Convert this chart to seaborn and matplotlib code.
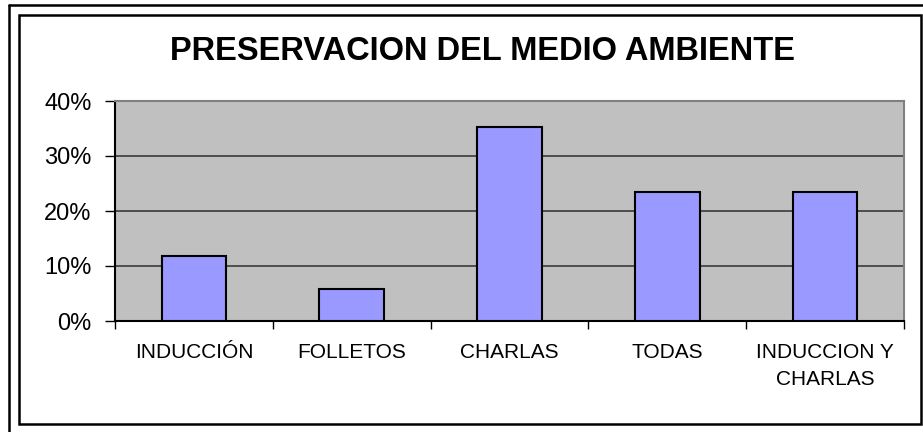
import matplotlib
matplotlib.use('Agg')
import matplotlib.pyplot as plt
import seaborn as sns
from matplotlib.ticker import FixedLocator, PercentFormatter
from matplotlib.patches import Rectangle
from matplotlib.lines import Line2D

# data (17 respondents -> multiples of 1/17)
categories = ['INDUCCIÓN', 'FOLLETOS', 'CHARLAS', 'TODAS', 'INDUCCION Y\nCHARLAS']
shares = [0.1176, 0.0588, 0.3529, 0.2353, 0.2353]
y_ticks = [0.0, 0.1, 0.2, 0.3, 0.4]
title = 'PRESERVACION DEL MEDIO AMBIENTE'

sns.set_style('white')
plt.rcParams['font.family'] = ['Liberation Sans', 'DejaVu Sans']
plt.rcParams['text.color'] = 'black'
plt.rcParams['xtick.color'] = 'black'
plt.rcParams['ytick.color'] = 'black'

W, H = 923, 432
fig = plt.figure(figsize=(W / 100, H / 100), dpi=100)
ax = fig.add_axes([115 / W, 1 - 321 / H, (904 - 115) / W, (321 - 101) / H])

sns.barplot(x=categories, y=shares, color='#9999FF', saturation=1, width=0.41,
            edgecolor='black', linewidth=1.5, ax=ax, zorder=3)

ax.set_facecolor('#C0C0C0')
ax.set_xlim(-0.5, len(categories) - 0.5)
ax.set_ylim(0, 0.4)
ax.yaxis.set_major_locator(FixedLocator(y_ticks))
ax.yaxis.set_major_formatter(PercentFormatter(1.0, decimals=0))
ax.grid(axis='y', color='#3a3a3a', lw=1.2, zorder=1)
ax.xaxis.grid(False)
ax.set_xlabel('')
ax.set_ylabel('')

for side in ['left', 'bottom']:
    ax.spines[side].set_color('black')
    ax.spines[side].set_linewidth(1.5)
for side in ['top', 'right']:
    ax.spines[side].set_color('#808080')
    ax.spines[side].set_linewidth(1.5)
    ax.spines[side].set_visible(True)

# category boundaries as ticks, labels on the centres
ax.set_xticks([i - 0.5 for i in range(len(categories) + 1)], labels=[])
ax.set_xticks(range(len(categories)), labels=categories, minor=True)
ax.tick_params(axis='x', which='major', direction='out', length=6, width=1, color='black', bottom=True)
ax.tick_params(axis='x', which='minor', length=0, pad=16, labelsize=15, labelcolor='black')
ax.tick_params(axis='y', direction='out', length=7, width=1, color='black', left=True, pad=10,
               labelsize=17, labelcolor='black')
for lbl in ax.get_xticklabels(minor=True):
    lbl.set_linespacing(1.55)

fig.text(482 / W, 1 - 51 / H, title, ha='center', va='center', fontsize=23.5,
         fontweight='bold', color='black')

# chart frame and outer border
fig.add_artist(Rectangle((19 / W, 1 - 424 / H), (921 - 19) / W, (424 - 15) / H,
                         transform=fig.transFigure, fill=False, ec='black', lw=1.8))
fig.add_artist(Line2D([9 / W, 9 / W], [0, 1 - 5 / H], transform=fig.transFigure, color='black', lw=1.8))
fig.add_artist(Line2D([9 / W, 1], [1 - 5 / H, 1 - 5 / H], transform=fig.transFigure, color='black', lw=1.8))

fig.savefig('out.png', dpi=100)
